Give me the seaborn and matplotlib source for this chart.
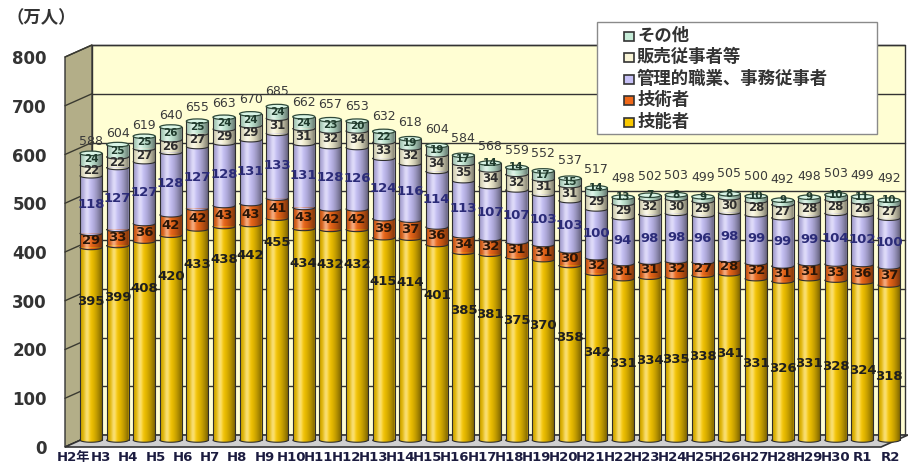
import matplotlib
matplotlib.use("Agg")
import numpy as np
import matplotlib.pyplot as plt
import seaborn as sns
from matplotlib.patches import Ellipse, Polygon, Rectangle
from matplotlib.lines import Line2D

# ---- data (万人) ----
years = ["H2年", "H3", "H4", "H5", "H6", "H7", "H8", "H9", "H10", "H11", "H12",
         "H13", "H14", "H15", "H16", "H17", "H18", "H19", "H20", "H21", "H22",
         "H23", "H24", "H25", "H26", "H27", "H28", "H29", "H30", "R1", "R2"]
skilled = [395, 399, 408, 420, 433, 438, 442, 455, 434, 432, 432, 415, 414, 401, 385, 381,
           375, 370, 358, 342, 331, 334, 335, 338, 341, 331, 326, 331, 328, 324, 318]
engineers = [29, 33, 36, 42, 42, 43, 43, 41, 43, 42, 42, 39, 37, 36, 34, 32,
             31, 31, 30, 32, 31, 31, 32, 27, 28, 32, 31, 31, 33, 36, 37]
clerical = [118, 127, 127, 128, 127, 128, 131, 133, 131, 128, 126, 124, 116, 114, 113, 107,
            107, 103, 103, 100, 94, 98, 98, 96, 98, 99, 99, 99, 104, 102, 100]
sales = [22, 22, 27, 26, 27, 29, 29, 31, 31, 32, 34, 33, 32, 34, 35, 34,
         32, 31, 31, 29, 29, 32, 30, 29, 30, 28, 27, 28, 28, 26, 27]
others = [24, 25, 25, 26, 25, 24, 24, 24, 24, 23, 20, 22, 19, 19, 17, 14,
          14, 17, 15, 14, 13, 7, 8, 9, 8, 10, 9, 9, 10, 11, 10]
totals = [588, 604, 619, 640, 655, 663, 670, 685, 662, 657, 653, 632, 618, 604, 584, 568,
          559, 552, 537, 517, 498, 502, 503, 499, 505, 500, 492, 498, 503, 499, 492]

series_names = ["技能者", "技術者", "管理的職業、事務従事者", "販売従事者等", "その他"]
series_vals = [skilled, engineers, clerical, sales, others]
colors = ["#f9c800", "#f06818", "#c7c1f7", "#f8f4d6", "#c6ecd8"]
label_colors = ["#1e1e1e", "#2a1608", "#2b2b78", "#2e2e2e", "#1f3a2c"]
label_sizes = [9.5, 9.5, 9.5, 8.5, 7.5]
y_ticks = [0, 100, 200, 300, 400, 500, 600, 700, 800]

# ---- figure geometry (pixel frame of the 3-D box) ----
W, H = 908, 470
sns.set_theme(style="white")
plt.rcParams["font.family"] = ["DejaVu Sans", "Noto Sans CJK JP"]

fig = plt.figure(figsize=(W / 100, H / 100), dpi=100)
L, R, T, B = 55, 906, 15, 447
ax = fig.add_axes([L / W, 1 - B / H, (R - L) / W, (B - T) / H])

X0, DX = 91.0, 26.6      # pixel centre of first bar, pixel step between bars
Y0, DY = 440.0, 0.4875   # pixel row of zero, pixels per unit


def dx(px):
    return (px - X0) / DX


def dy(py):
    return (Y0 - py) / DY


front_off = dy(447)   # front edge of the floor
back_off = dy(435)    # back wall base
wall_l, wall_b, wall_r = dx(65), dx(92), dx(905)

# ---- walls and floor ----
ax.add_patch(Polygon([(wall_b, back_off), (wall_b, 800 + back_off),
                      (wall_r, 800 + back_off), (wall_r, back_off)],
                     closed=True, facecolor="#fffed3", edgecolor="#333333",
                     lw=1.0, zorder=0.5, clip_on=False))
for v in y_ticks:
    ax.add_line(Line2D([wall_b, wall_r], [v + back_off, v + back_off],
                       color="#333333", lw=1.0, zorder=0.6, clip_on=False))
ax.add_patch(Polygon([(wall_l, front_off), (wall_b, back_off),
                      (wall_b, 800 + back_off), (wall_l, 800 + front_off)],
                     closed=True, facecolor="#b3ae88", edgecolor="#333333",
                     lw=1.0, zorder=0.7, clip_on=False))
for v in y_ticks:
    ax.add_line(Line2D([wall_l, wall_b], [v + front_off, v + back_off],
                       color="#3a3a30", lw=1.0, zorder=0.8, clip_on=False))
ax.add_patch(Polygon([(wall_l, front_off), (wall_b, back_off),
                      (dx(908), back_off), (dx(881), front_off)],
                     closed=True, facecolor="#cfcfcf", edgecolor="#333333",
                     lw=1.2, zorder=0.9, clip_on=False))

# ---- stacked bars: cumulative totals drawn from the top series down ----
cums = np.cumsum(np.array(series_vals, dtype=float), axis=0)
bar_w = 0.83
for k in range(len(series_vals) - 1, -1, -1):
    sns.barplot(x=years, y=cums[k], color=colors[k], saturation=1, width=bar_w,
                errorbar=None, linewidth=0, zorder=3, ax=ax)

# ---- cylinder look: curved segment boundaries, shading, rims, caps ----
eh = 9.2  # full ellipse height in data units
theta = np.linspace(np.pi, 2 * np.pi, 40)
grad_t = np.linspace(0, 1, 80)
dark = 0.55 * np.clip(np.abs(grad_t - 0.36) / 0.64, 0, 1) ** 1.6
light = 0.45 * np.exp(-((grad_t - 0.30) / 0.12) ** 2)
grad = np.zeros((1, grad_t.size, 4))
mix = light / (light + dark + 1e-6)
grad[0, :, 0] = mix
grad[0, :, 1] = mix
grad[0, :, 2] = mix
grad[0, :, 3] = np.clip(light + dark, 0, 0.65)

for i in range(len(years)):
    lows = [0.0] + list(cums[:-1, i])
    top = cums[-1, i]
    xl, xr = i - bar_w / 2, i + bar_w / 2
    ax_arc = i + bar_w / 2 * np.cos(theta)
    for k, lo in enumerate(lows):
        ay = lo + eh / 2 * np.sin(theta)
        ax.add_patch(Polygon(np.column_stack([ax_arc, ay]), closed=True,
                             facecolor=colors[k], edgecolor="none", zorder=3.5,
                             clip_on=False))
    outline = ([(xl, top), (xl, 0)] + list(zip(ax_arc, eh / 2 * np.sin(theta)))
               + [(xr, 0), (xr, top)])
    clip_poly = Polygon(outline, closed=True, transform=ax.transData)
    im = ax.imshow(grad, extent=[xl, xr, -eh / 2, top], aspect="auto",
                   interpolation="bilinear", zorder=4)
    im.set_clip_path(clip_poly)
    for lo in lows:
        ax.add_line(Line2D(ax_arc, lo + eh / 2 * np.sin(theta), color="#2e2e2e",
                           lw=0.8, zorder=5, clip_on=False))
    ax.add_line(Line2D([xl, xl], [0, top], color="#2e2e2e", lw=0.8, zorder=5))
    ax.add_line(Line2D([xr, xr], [0, top], color="#2e2e2e", lw=0.8, zorder=5))
    ax.add_patch(Ellipse((i, top), bar_w, eh, facecolor="#d9f5e6",
                         edgecolor="#2f4a3a", lw=0.9, zorder=6))

# ---- value labels ----
for i in range(len(years)):
    v = skilled[i]
    ax.text(i, 2 * v - 505, str(v), ha="center", va="center", fontsize=label_sizes[0],
            fontweight="bold", color=label_colors[0], zorder=9)
    for k in range(1, 5):
        v = series_vals[k][i]
        mid = cums[k - 1, i] + v / 2
        if k == 4 and v < 15:
            mid = cums[k, i]          # thin top segment: label sits on the cap
        ax.text(i, mid, str(v), ha="center", va="center", fontsize=label_sizes[k],
                fontweight="bold", color=label_colors[k], zorder=9)
    ax.text(i, totals[i] + 24 + 0.7 * i, str(totals[i]), ha="center", va="center",
            fontsize=9, color="#3a3a3a", zorder=9)

# ---- axes styling ----
ax.set_xlim(dx(L), dx(R))
ax.set_ylim(dy(B), dy(T))
ax.set_facecolor("none")
for s in ax.spines.values():
    s.set_visible(False)
ax.set_xlabel("")
ax.set_ylabel("")
ax.set_yticks([v + front_off for v in y_ticks])
ax.set_yticklabels([str(v) for v in y_ticks], fontsize=12, fontweight="bold",
                   color="#333333")
ax.set_xticks([dx(74 + 27.2 * i) for i in range(len(years))])
ax.set_xticklabels(years, fontsize=9.5, fontweight="bold", color="#1c1c40")
ax.tick_params(axis="y", length=0, pad=5.8)
ax.tick_params(axis="x", length=0, pad=3)
ax.grid(False)

fig.text(7 / W, 1 - 18 / H, "（万人）", fontsize=12.5, fontweight="bold",
         color="#333333", ha="left", va="center")

# ---- legend box ----
fig.add_artist(Rectangle((597 / W, 1 - 134 / H), (877 - 597) / W, (134 - 22) / H,
                         transform=fig.transFigure, facecolor="white",
                         edgecolor="#8a8a8a", lw=1.0, zorder=10))
rows = [36, 57, 79, 100, 122]
for row, k in zip(rows, [4, 3, 2, 1, 0]):
    fig.add_artist(Rectangle((624 / W, 1 - (row + 4.5) / H), 10 / W, 9 / H,
                             transform=fig.transFigure, facecolor=colors[k],
                             edgecolor="#333333", lw=1.2, zorder=11))
    fig.text(637 / W, 1 - row / H, series_names[k], fontsize=12.5, fontweight="bold",
             color="#333333", ha="left", va="center", zorder=12)

fig.savefig("out.png", dpi=100, facecolor="white")
